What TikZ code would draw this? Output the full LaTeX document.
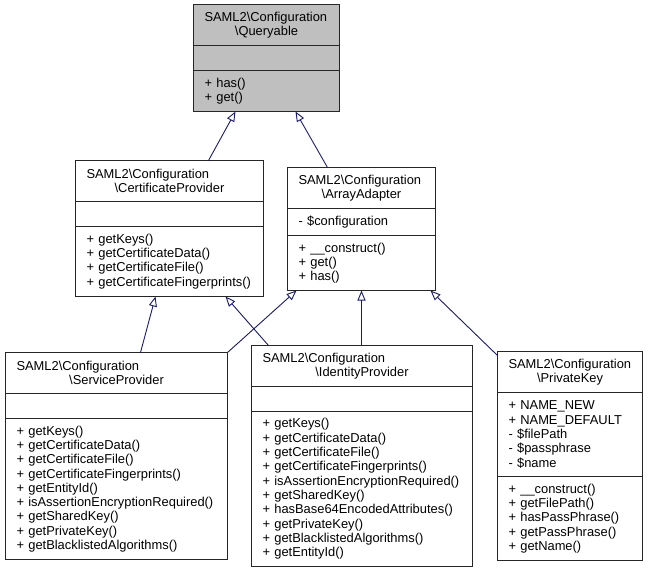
\documentclass[tikz,border=0pt]{standalone}
\usepackage{fontspec}
\setmainfont{Liberation Sans}
\usetikzlibrary{arrows.meta}
\definecolor{edgeblue}{RGB}{25,25,112}
\definecolor{hdrgray}{RGB}{191,191,191}
\newcommand{\bs}{\textbackslash}

\begin{document}
\begin{tikzpicture}[x=1pt,y=-1pt,
  every node/.style={font=\fontsize{12.9}{14.3}\selectfont, inner xsep=11pt, inner ysep=0pt, outer sep=0pt},
  hdr/.style={draw=black!85, line width=0.9pt, fill=white, text width=#1, align=center, minimum height=41pt, anchor=north west},
  fld/.style={draw=black!85, line width=0.9pt, fill=white, text width=#1, align=left, anchor=north},
  inherit/.style={draw=edgeblue, line width=0.9pt, -{Triangle[open,length=10pt,width=8pt]}}]
 \useasboundingbox (0,0) rectangle (648,573);
 \node[hdr=124pt, fill=hdrgray] (qry) at (193.5,4.5) {\makebox[\linewidth][l]{SAML2\bs Configuration}\\\bs Queryable};
 \node[fld=124pt, fill=hdrgray, minimum height=25pt] (qry-a) at (qry.south) {};
 \node[fld=124pt, fill=hdrgray, minimum height=41pt] (qry-m) at (qry-a.south) {+ has()\\+ get()};
 \node[hdr=166pt] (cp) at (75.5,160.5) {\makebox[\linewidth][l]{SAML2\bs Configuration}\\\bs CertificateProvider};
 \node[fld=166pt, minimum height=25pt] (cp-a) at (cp.south) {};
 \node[fld=166pt, minimum height=70pt] (cp-m) at (cp-a.south) {+ getKeys()\\+ getCertificateData()\\+ getCertificateFile()\\+ getCertificateFingerprints()};
 \node[hdr=126pt] (aa) at (287.5,167.5) {\makebox[\linewidth][l]{SAML2\bs Configuration}\\\bs ArrayAdapter};
 \node[fld=126pt, minimum height=27pt] (aa-a) at (aa.south) {- \$configuration};
 \node[fld=126pt, minimum height=55pt] (aa-m) at (aa-a.south) {+ \_\_construct()\\+ get()\\+ has()};
 \node[hdr=200pt] (sp) at (5.5,352.5) {\makebox[\linewidth][l]{SAML2\bs Configuration}\\\bs ServiceProvider};
 \node[fld=200pt, minimum height=25pt] (sp-a) at (sp.south) {};
 \node[fld=200pt, minimum height=141pt] (sp-m) at (sp-a.south) {+ getKeys()\\+ getCertificateData()\\+ getCertificateFile()\\+ getCertificateFingerprints()\\+ getEntityId()\\+ isAssertionEncryptionRequired()\\+ getSharedKey()\\+ getPrivateKey()\\+ getBlacklistedAlgorithms()};
 \node[hdr=199pt] (ip) at (251.5,345.5) {\makebox[\linewidth][l]{SAML2\bs Configuration}\\\bs IdentityProvider};
 \node[fld=199pt, minimum height=25pt] (ip-a) at (ip.south) {};
 \node[fld=199pt, minimum height=155pt] (ip-m) at (ip-a.south) {+ getKeys()\\+ getCertificateData()\\+ getCertificateFile()\\+ getCertificateFingerprints()\\+ isAssertionEncryptionRequired()\\+ getSharedKey()\\+ hasBase64EncodedAttributes()\\+ getPrivateKey()\\+ getBlacklistedAlgorithms()\\+ getEntityId()};
 \node[hdr=123pt] (pk) at (497.5,351.5) {\makebox[\linewidth][l]{SAML2\bs Configuration}\\\bs PrivateKey};
 \node[fld=123pt, minimum height=84pt] (pk-a) at (pk.south) {+ NAME\_NEW\\+ NAME\_DEFAULT\\- \$filePath\\- \$passphrase\\- \$name};
 \node[fld=123pt, minimum height=84pt] (pk-m) at (pk-a.south) {+ \_\_construct()\\+ getFilePath()\\+ hasPassPhrase()\\+ getPassPhrase()\\+ getName()};
 \draw[inherit] ([xshift=133pt]cp.north west) -- ([xshift=42pt]qry-m.south west);
 \draw[inherit] ([xshift=40pt]aa.north west) -- ([xshift=102pt]qry-m.south west);
 \draw[inherit] ([xshift=135pt]sp.north west) -- ([xshift=80pt]cp-m.south west);
 \draw[inherit] ([xshift=17pt]ip.north west) -- ([xshift=150pt]cp-m.south west);
 \draw[inherit] (sp.north east) -- ([xshift=9pt]aa-m.south west);
 \draw[inherit] ([xshift=110pt]ip.north west) -- ([xshift=74pt]aa-m.south west);
 \draw[inherit] ([yshift=-4pt]pk.north west) -- ([xshift=-5pt]aa-m.south east);
\end{tikzpicture}
\end{document}
